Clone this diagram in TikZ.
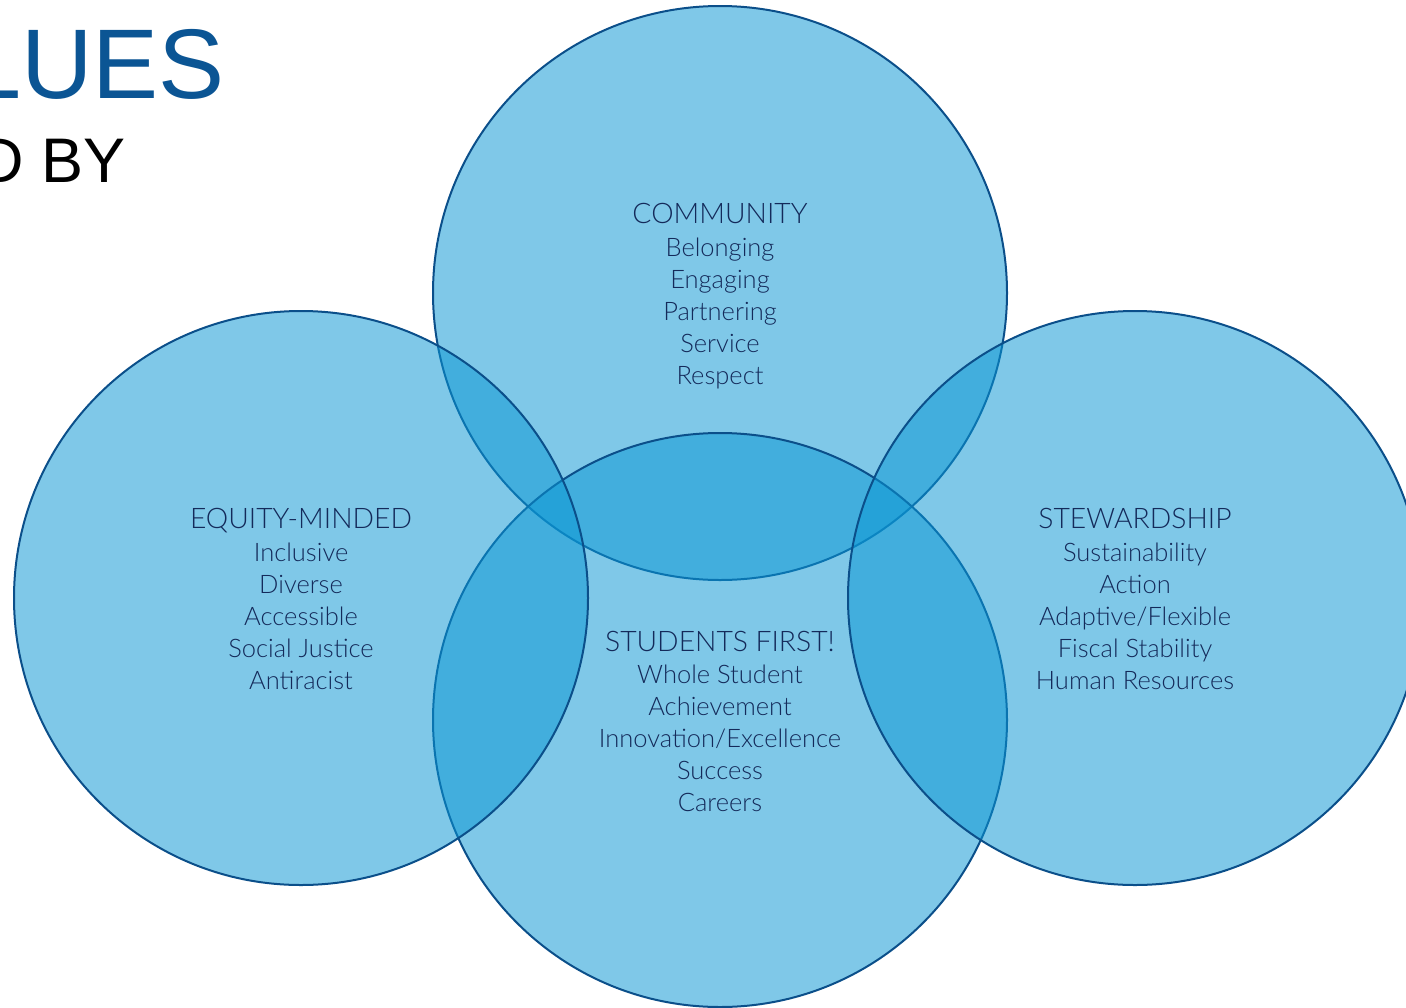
\documentclass[tikz,border=0pt]{standalone}
\usepackage{fontspec}
\setmainfont{Lato}[UprightFont=* Light]
\newfontfamily\titlefont{Liberation Sans}
\definecolor{circfill}{RGB}{10,150,211}
\definecolor{circline}{RGB}{11,79,138}
\definecolor{txtnavy}{RGB}{20,42,90}
\definecolor{titleblue}{RGB}{11,85,148}
\tikzset{
  venn/.style={fill=circfill, fill opacity=0.523, draw=circline, line width=2pt},
  head/.style={anchor=base, inner sep=0pt, text=txtnavy, font=\fontsize{28.3}{30}\selectfont},
  item/.style={anchor=base, inner sep=0pt, text=txtnavy, font=\fontsize{25.5}{27}\selectfont},
}
\begin{document}
\begin{tikzpicture}[x=1pt,y=-1pt]
\useasboundingbox (0,0) rectangle (1406,1007);
\clip (0,0) rectangle (1406,1007);
% title
\node (t1) [anchor=base east, inner sep=0pt, text=titleblue, font=\titlefont\fontsize{99}{100}\selectfont] at (225,98) {LUES};
\node (t2) [anchor=base east, inner sep=0pt, text=black, font=\titlefont\fontsize{63}{64}\selectfont] at (126,182) {D BY};
% circles (drawing order: top, bottom, left, right)
\node (ctop) [venn, circle, minimum size=574pt, inner sep=0pt] at (720,293) {};
\node (cbot) [venn, circle, minimum size=574pt, inner sep=0pt] at (720,720) {};
\node (cleft) [venn, circle, minimum size=574pt, inner sep=0pt] at (301,598) {};
\node (cright) [venn, circle, minimum size=574pt, inner sep=0pt] at (1135,598) {};
% community
\node (h1) [head] at (720,223) {COMMUNITY};
\node (a1) [item] at (720,256) {Belonging};
\node (a2) [item] at (720,288) {Engaging};
\node (a3) [item] at (720,320) {Partnering};
\node (a4) [item] at (720,352) {Service};
\node (a5) [item] at (720,384) {Respect};
% equity
\node (h2) [head] at (301,528) {EQUITY-MINDED};
\node (b1) [item] at (301,561) {Inclusive};
\node (b2) [item] at (301,593) {Diverse};
\node (b3) [item] at (301,625) {Accessible};
\node (b4) [item] at (301,657) {Social Justice};
\node (b5) [item] at (301,689) {Antiracist};
% stewardship
\node (h3) [head] at (1135,528) {STEWARDSHIP};
\node (s1) [item] at (1135,561) {Sustainability};
\node (s2) [item] at (1135,593) {Action};
\node (s3) [item] at (1135,625) {Adaptive/Flexible};
\node (s4) [item] at (1135,657) {Fiscal Stability};
\node (s5) [item] at (1135,689) {Human Resources};
% students
\node (h4) [head] at (720,651) {STUDENTS FIRST!};
\node (d1) [item] at (720,683) {Whole Student};
\node (d2) [item] at (720,715) {Achievement};
\node (d3) [item] at (720,747) {Innovation/Excellence};
\node (d4) [item] at (720,779) {Success};
\node (d5) [item] at (720,811) {Careers};
\end{tikzpicture}
\end{document}
